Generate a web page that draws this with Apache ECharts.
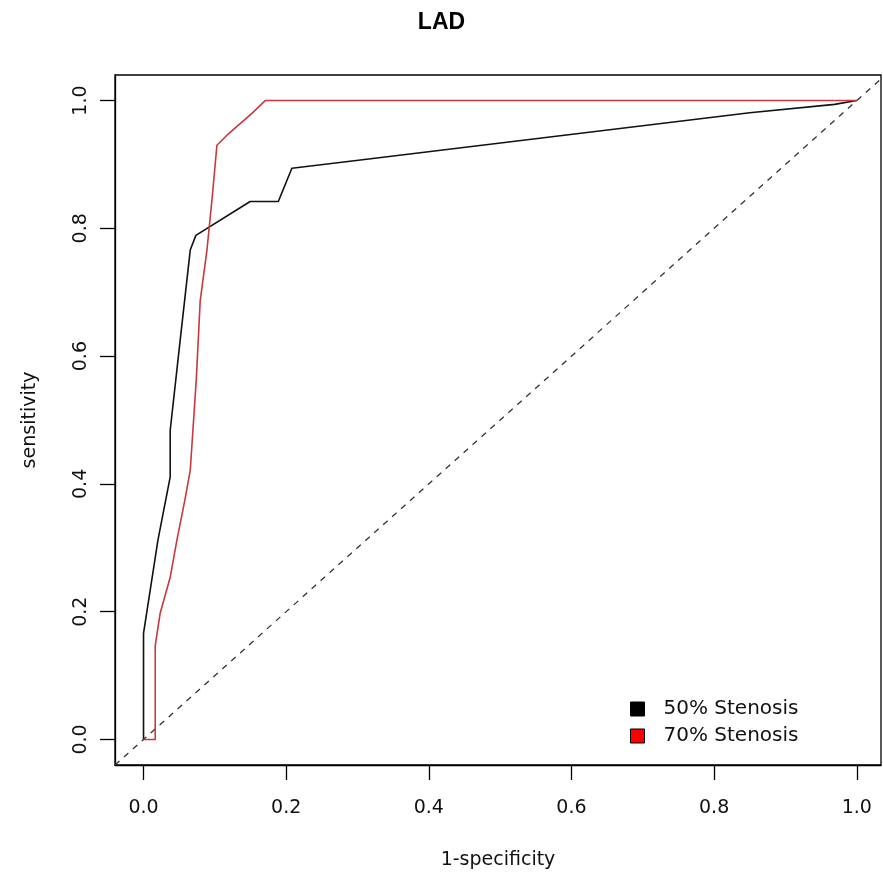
<!DOCTYPE html>
<html>
<head>
<meta charset="utf-8">
<script src="https://cdn.jsdelivr.net/npm/echarts@6/dist/echarts.min.js"></script>
<style>html,body{margin:0;padding:0;background:#fff}#c{width:883px;height:879px}</style>
</head>
<body>
<div id="c"></div>
<script>
const chartTitle = "LAD";
const xTitle = "1-specificity";
const yTitle = "sensitivity";
const tickValues = [0, 0.2, 0.4, 0.6, 0.8, 1.0];
const seriesNames = ["50% Stenosis", "70% Stenosis"];
// ROC curve for 50% stenosis: [1-specificity, sensitivity]
const roc50 = [
  [0, 0], [0, 0.166], [0.0202, 0.312], [0.0374, 0.411], [0.0374, 0.484],
  [0.0514, 0.625], [0.0655, 0.766], [0.0734, 0.789], [0.1495, 0.842],
  [0.189, 0.842], [0.208, 0.894], [0.2896, 0.905], [0.85, 0.981],
  [0.969, 0.994], [1, 1]
];
// ROC curve for 70% stenosis
const roc70 = [
  [0, 0], [0.0164, 0], [0.0164, 0.147], [0.0234, 0.198], [0.0374, 0.254],
  [0.0468, 0.312], [0.058, 0.375], [0.0655, 0.421], [0.0739, 0.562],
  [0.0795, 0.687], [0.0889, 0.766], [0.0959, 0.844], [0.1029, 0.930],
  [0.119, 0.948], [0.152, 0.980], [0.1706, 1.0], [1, 1]
];
// Reference diagonal (chance line)
const diagonal = [[-0.04, -0.04], [1.04, 1.04]];

const font = "DejaVu Sans";
const chart = echarts.init(document.getElementById('c'), null, {renderer: 'canvas'});
chart.setOption({
  animation: false,
  backgroundColor: '#fff',
  title: {
    text: chartTitle, left: 'center', top: 11, padding: 0,
    textStyle: {fontFamily: 'Liberation Sans', fontWeight: 'bold', fontSize: 23, color: '#000'}
  },
  grid: {left: 115, right: 2, top: 75, bottom: 114, show: true, borderColor: '#000', borderWidth: 1.3, containLabel: false},
  legend: {
    orient: 'vertical', left: 625, top: 694, itemGap: 7,
    itemWidth: 30, itemHeight: 14, icon: 'rect',
    data: [
      {name: seriesNames[0], icon: 'path://M0,0H10V10H0Z', itemStyle: {color: '#000', borderColor: '#000', borderWidth: 1}},
      {name: seriesNames[1], icon: 'path://M0,0H10V10H0Z', itemStyle: {color: '#f00', borderColor: '#000', borderWidth: 1}}
    ],
    textStyle: {fontFamily: font, fontSize: 20, color: '#111', padding: [0, 0, 0, 6]}
  },
  xAxis: {
    type: 'value', min: -0.04, max: 1.034,
    name: xTitle, nameLocation: 'middle', nameGap: 86,
    nameTextStyle: {fontFamily: font, fontSize: 19, color: '#111'},
    axisLine: {show: true, onZero: false, lineStyle: {color: '#000', width: 1.3}},
    axisTick: {show: true, inside: false, length: 15, customValues: tickValues, lineStyle: {color: '#000', width: 1.3}},
    axisLabel: {show: true, margin: 34, customValues: tickValues, fontFamily: font, fontSize: 19, color: '#111',
      formatter: v => v.toFixed(1)},
    splitLine: {show: false}
  },
  yAxis: {
    type: 'value', min: -0.04, max: 1.04,
    name: yTitle, nameLocation: 'middle', nameGap: 75, nameRotate: 90,
    nameTextStyle: {fontFamily: font, fontSize: 19, color: '#111'},
    axisLine: {show: true, onZero: false, lineStyle: {color: '#000', width: 1.3}},
    axisTick: {show: true, inside: false, length: 15, customValues: tickValues, lineStyle: {color: '#000', width: 1.3}},
    axisLabel: {show: true, margin: 24, rotate: 90, customValues: tickValues, fontFamily: font, fontSize: 19, color: '#111',
      formatter: v => v.toFixed(1)},
    splitLine: {show: false}
  },
  series: [
    {
      name: 'diag', type: 'line', data: diagonal, symbol: 'none', clip: true, silent: true,
      lineStyle: {color: '#333', width: 1.3, type: [6, 6]}
    },
    {
      name: seriesNames[0], type: 'line', data: roc50, symbol: 'none', clip: true,
      itemStyle: {color: '#000'},
      lineStyle: {color: '#111', width: 1.6}
    },
    {
      name: seriesNames[1], type: 'line', data: roc70, symbol: 'none', clip: true,
      itemStyle: {color: '#f00'},
      lineStyle: {color: '#c8383c', width: 1.6}
    }
  ]
});
</script>
</body>
</html>
